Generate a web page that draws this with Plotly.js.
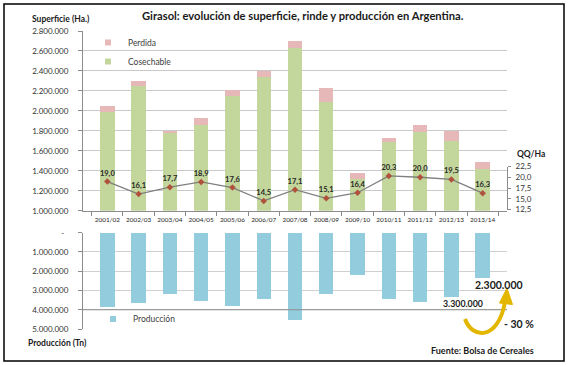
<!DOCTYPE html>
<html>
<head>
<meta charset="utf-8">
<script src="https://cdn.plot.ly/plotly-3.0.1.min.js"></script>
<style>html,body{margin:0;padding:0;background:#fff;}#chart{width:568px;height:367px;}</style>
</head>
<body>
<div id="chart"></div>
<script>
// ---- data ----
const campanias = ['2001/02','2002/03','2003/04','2004/05','2005/06','2006/07','2007/08','2008/09','2009/10','2010/11','2011/12','2012/13','2013/14'];
const cosechable = [1990000, 2250000, 1775000, 1860000, 2150000, 2340000, 2627000, 2090000, 1314000, 1684000, 1790000, 1698000, 1414000];
const perdida    = [  55000,   52000,   26000,   65000,   59000,   60000,   73000,  139000,   66000,   44000,   71000,   97000,   70000];
const rinde      = [19.0, 16.1, 17.7, 18.9, 17.6, 14.5, 17.1, 15.1, 16.4, 20.3, 20.0, 19.5, 16.3];
const produccion = [3850000, 3630000, 3170000, 3570000, 3780000, 3430000, 4520000, 3160000, 2190000, 3430000, 3620000, 3340000, 2360000];
const prodTickVals = [0, 1000000, 2000000, 3000000, 4000000, 5000000];
const prodTickText = ['-\u00a0\u00a0', '1.000.000', '2.000.000', '3.000.000', '4.000.000', '5.000.000'];

// ---- layout helpers (pixel -> paper) ----
const L = 83, R = 61, T = 31, B = 38;
const PW = 568 - L - R, PH = 367 - T - B;
const px = v => (v - L) / PW;
const py = v => (T + PH - v) / PH;

const FONT = 'Lato, "Open Sans", sans-serif';
const GREEN = '#c3d69b', PINK = '#e6b9b8', BLUE = '#93cddd';
const AXC = '#8c8c8c';

const traces = [
  {type:'bar', name:'Cosechable', x:campanias, y:cosechable, xaxis:'x', yaxis:'y',
   marker:{color:GREEN}, showlegend:false, hoverinfo:'skip'},
  {type:'bar', name:'Perdida', x:campanias, y:perdida, xaxis:'x', yaxis:'y',
   marker:{color:PINK}, showlegend:false, hoverinfo:'skip'},
  {type:'bar', name:'Producción', x:campanias, y:produccion, xaxis:'x', yaxis:'y2',
   marker:{color:BLUE}, showlegend:false, hoverinfo:'skip'},
  {type:'scatter', name:'Rinde', x:campanias, y:rinde, xaxis:'x', yaxis:'y3',
   mode:'lines+markers+text', cliponaxis:false,
   line:{color:'#7f7f7f', width:1.3},
   marker:{symbol:'diamond', size:5, color:'#b0513c'},
   texttemplate:'%{y:.1f}', textposition:'top center',
   textfont:{family:FONT, size:7.5, color:'#262626', weight:'bold'},
   showlegend:false, hoverinfo:'skip'},
  // legend entries
  {type:'scatter', name:'Perdida', x:[null], y:[null], xaxis:'x', yaxis:'y', mode:'markers',
   marker:{symbol:'square', size:6, color:PINK}, legend:'legend'},
  {type:'scatter', name:'Cosechable', x:[null], y:[null], xaxis:'x', yaxis:'y', mode:'markers',
   marker:{symbol:'square', size:6, color:GREEN}, legend:'legend'},
  {type:'scatter', name:'Producción', x:[null], y:[null], xaxis:'x', yaxis:'y', mode:'markers',
   marker:{symbol:'square', size:6, color:BLUE}, legend:'legend2'}
];

const arrowLine = `M ${px(465)} ${py(319)} C ${px(472)} ${py(339)} ${px(498)} ${py(341)} ${px(505)} ${py(302)}`;
const arrowHead = `M ${px(507)} ${py(288)} L ${px(499.5)} ${py(303)} L ${px(512.5)} ${py(304.5)} Z`;

const ann = (text, x, y, size, opts={}) => Object.assign({
  text, x:px(x), y:py(y), xref:'paper', yref:'paper', showarrow:false,
  xanchor:'left', yanchor:'middle',
  font:{family:FONT, size, color:'#1a1a1a', weight:'bold'}
}, opts);

const layout = {
  width:568, height:367,
  margin:{l:L, r:R, t:T, b:B, pad:0},
  paper_bgcolor:'#fff', plot_bgcolor:'rgba(0,0,0,0)',
  separators:',.',
  barmode:'stack', bargap:0.54,
  font:{family:FONT, size:8, color:'#333'},
  showlegend:true,
  xaxis:{type:'category', anchor:'y', domain:[0,1], tickangle:0,
    showgrid:false, showline:true, linecolor:AXC, linewidth:1,
    ticks:'outside', ticklen:4, tickcolor:AXC, tickson:'boundaries', ticklabelstandoff:3,
    tickfont:{family:FONT, size:6.4, color:'#262626'}, fixedrange:true},
  yaxis:{domain:[py(210.7), 1], range:[1000000, 2800000], dtick:200000, tickformat:',d',
    showgrid:true, gridcolor:'#c9c9c9', gridwidth:1, zeroline:false,
    showline:true, linecolor:AXC, ticks:'outside', ticklen:4, tickcolor:AXC,
    tickfont:{family:FONT, size:8, color:'#333'}, ticklabelstandoff:8, anchor:'x'},
  yaxis2:{domain:[0, py(232.7)], range:[5000000, 0], tickvals:prodTickVals, ticktext:prodTickText,
    showgrid:true, gridcolor:'#d0d0d0', zeroline:false,
    showline:true, linecolor:AXC, ticks:'outside', ticklen:4, tickcolor:AXC,
    tickfont:{family:FONT, size:8, color:'#333'}, ticklabelstandoff:8, anchor:'x'},
  yaxis3:{domain:[py(209.5), py(166.5)], range:[12.5, 22.5], dtick:2.5, tickformat:'.1f',
    side:'right', anchor:'x', showgrid:false, zeroline:false,
    showline:true, linecolor:AXC, ticks:'outside', ticklen:3, tickcolor:AXC,
    tickfont:{family:FONT, size:8, color:'#333'}, ticklabelstandoff:3},
  legend:{x:px(88), y:py(28), xanchor:'left', yanchor:'top', bgcolor:'rgba(0,0,0,0)',
    font:{family:FONT, size:8.5, color:'#404040'}, traceorder:'normal', itemwidth:30},
  legend2:{x:px(93), y:py(319), xanchor:'left', yanchor:'middle', bgcolor:'rgba(0,0,0,0)',
    font:{family:FONT, size:8.5, color:'#404040'}, itemwidth:30},
  shapes:[
    {type:'line', xref:'paper', yref:'y2', x0:0, x1:1, y0:4000000, y1:4000000,
     line:{color:'#8c8c8c', width:1}},
    {type:'rect', xref:'paper', yref:'paper', x0:px(4), x1:px(564), y0:py(361), y1:py(4),
     line:{color:'#000', width:1.5}, fillcolor:'rgba(0,0,0,0)'},
    {type:'path', xref:'paper', yref:'paper', path:arrowLine,
     line:{color:'#e3b600', width:4}, fillcolor:'rgba(0,0,0,0)'},
    {type:'path', xref:'paper', yref:'paper', path:arrowHead,
     line:{color:'#e3b600', width:1}, fillcolor:'#e3b600'}
  ],
  annotations:[
    ann('Girasol: evolución de superficie, rinde y producción en Argentina.', 303, 15, 11.2, {xanchor:'center'}),
    ann('Superficie (Ha.)', 30, 19, 8.5),
    ann('QQ/Ha', 515, 154, 8.5),
    ann('Producción (Tn)', 26, 343, 8.5),
    ann('Fuente: Bolsa de Cereales', 429, 350, 9),
    ann('2.300.000', 473, 285, 10.5),
    ann('3.300.000', 440.5, 303, 8.8),
    ann('- 30 %', 501.5, 323.5, 10.5)
  ]
};

Plotly.newPlot('chart', traces, layout, {staticPlot:true, displayModeBar:false});
</script>
</body>
</html>
